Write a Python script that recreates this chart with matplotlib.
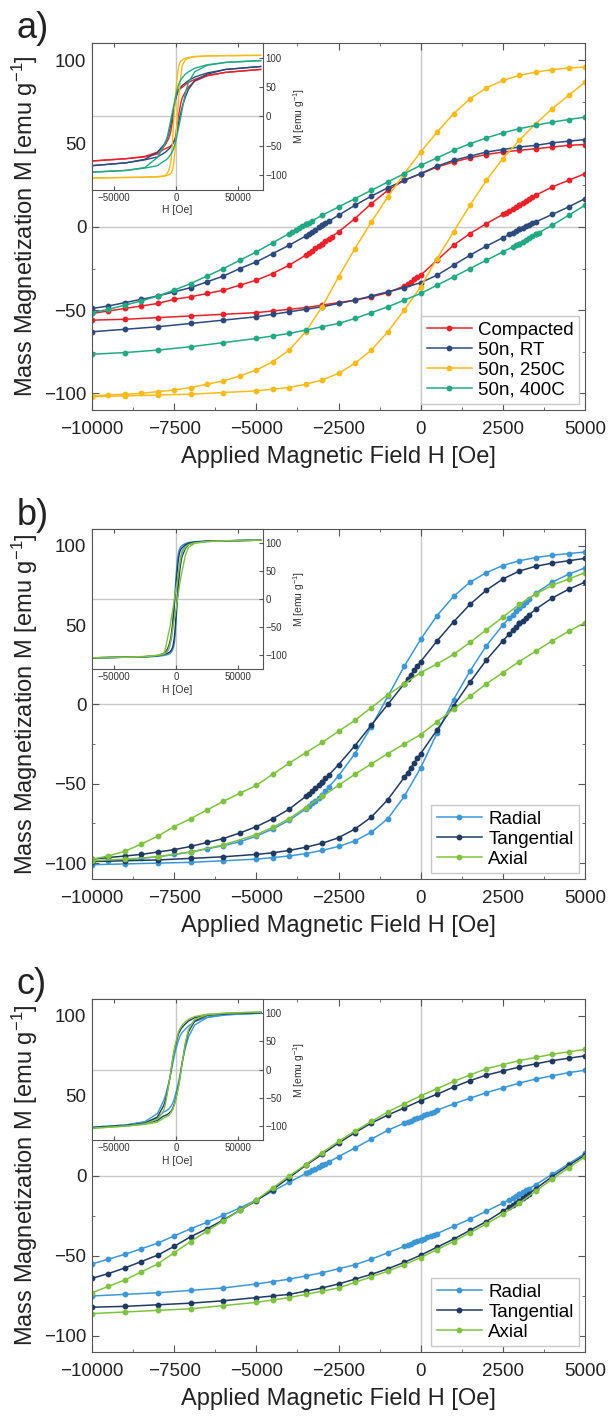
import numpy as np
import matplotlib.pyplot as plt
from matplotlib.ticker import MultipleLocator

plt.rcParams['font.family'] = ['Liberation Sans', 'DejaVu Sans']
plt.rcParams['mathtext.fontset'] = 'custom'
plt.rcParams['mathtext.rm'] = 'Liberation Sans'
plt.rcParams['mathtext.it'] = 'Liberation Sans:italic'

# field grid of the two branches [Oe]
H_DN = [5000, 4500, 4000, 3500, 3000, 2500, 2000, 1500, 1000, 500, 0, -500, -1000,
        -1500, -2000, -2500, -3000, -3500, -4000, -4500, -5000, -5500, -6000, -6500,
        -7000, -7500, -8000, -8500, -9000, -9500, -10000]
H_UP = [-10000, -9000, -8000, -7000, -6000, -5000, -4500, -4000, -3500, -3000, -2500,
        -2000, -1500, -1000, -500, 0, 500, 1000, 1500, 2000, 2500, 3000, 3500, 4000,
        4500, 5000]
# extra field points for the insets (high field)
INS_HI_H = [7500, 10000, 15000, 25000, 40000, 68000]
INS_LO_H = [-68000, -40000, -25000, -15000]

# ---------------- panel a ----------------
comp_dn = [49.5, 49, 48, 47, 46, 45, 43.5, 41.5, 39, 36, 32, 28, 22, 14, 5, -3, -10, -17,
           -23, -28, -32, -35, -38, -40, -42, -43.5, -46, -47.5, -49, -50.5, -52]
comp_up = [-56, -55.5, -54.5, -53.5, -52.5, -51.5, -50.5, -49.5, -48.5, -47, -45.5, -44,
           -42, -39.5, -35.5, -29, -20, -11, -4, 2, 7.5, 13, 19, 24, 28, 32]
comp_fine_h = [-3400, -3300, -3200, -3100, -3000, -2900, -2800, -2700,
               2600, 2700, 2800, 2900, 3000, 3100, 3200, 3300, 3400,
               -400, -300, -200, -100]
comp_fine_m = [-15.6, -14.2, -12.8, -11.4, -10, -8.6, -7.2, -5.8,
               8.6, 9.7, 10.8, 11.9, 13, 14.2, 15.4, 16.6, 17.8,
               -34.5, -33, -31.5, -30]
comp_hi_dn = [54, 58, 63, 70, 75, 80]
comp_hi_up = [42, 50, 60, 69, 75, 80]
comp_lo_dn = [-76, -72, -68, -61]
comp_lo_up = [-76, -72, -69, -64]

rt_dn = [52.5, 51.5, 50.5, 49, 48, 46.5, 45, 42.5, 40, 36.5, 32, 28, 23.5, 18.5, 13, 7, 1,
         -5.5, -11, -16, -21, -25, -29.5, -33, -36.5, -39, -41.5, -43.5, -45.5, -47.5, -49]
rt_up = [-63, -61.5, -60, -58, -56, -54, -52.5, -51, -49.5, -48, -46, -44, -41.5, -39,
         -36.5, -33.5, -29, -23, -17, -11.5, -6.5, -1.5, 3, 7.5, 12, 17]
rt_fine_h = [-3400, -3300, -3200, -3100, -3000, -2900, -2800,
             2700, 2800, 2900, 3000, 3100, 3200, 3300, 3400]
rt_fine_m = [-4.2, -2.9, -1.6, -0.3, 1, 2.2, 3.4,
             -4.5, -3.5, -2.5, -1.5, -0.6, 0.3, 1.2, 2.1]
rt_hi_dn = [57, 61, 67, 74, 80, 85]
rt_hi_up = [33, 46, 61, 72, 80, 85]
rt_lo_dn = [-84, -79, -73, -61]
rt_lo_up = [-84, -79, -74, -69]

c250_dn = [96, 95.5, 94.5, 93, 91, 88, 83.5, 77, 68, 57, 45, 32, 18, 3, -13, -30, -48,
           -63, -74, -81, -86, -89.5, -92.5, -94.5, -96.5, -98, -99, -100, -100.5, -101,
           -101.5]
c250_up = [-102, -101.5, -101, -100.5, -99.5, -98.5, -97.5, -96.5, -94.5, -92, -88, -82,
           -74, -63, -50, -36, -19, -3, 13, 28, 41, 52, 62, 71, 79, 87]
c250_fine_h = []
c250_fine_m = []
c250_hi_dn = [99, 100.5, 102, 103, 103.5, 104]
c250_hi_up = [96, 99.5, 101.5, 103, 103.5, 104]
c250_lo_dn = [-105, -104, -103.5, -102.5]
c250_lo_up = [-105, -104, -103.5, -103]

c400_dn = [66, 64.5, 63, 61, 59, 56.5, 53.5, 50, 46, 41.5, 37, 32, 27, 22, 17, 12, 7, 1.5,
           -4, -9.5, -15, -20, -25, -29.5, -34, -38, -41.5, -44.5, -47, -49.5, -51.5]
c400_up = [-76.5, -75.5, -74, -72, -69.5, -67, -65.5, -64, -62, -60, -58, -55, -51.5, -48,
           -44, -40, -35, -30, -25, -20, -15, -10, -4.5, 1, 7, 13]
c400_fine_h = [-3900, -3800, -3700, -3600, -3500, -3400, -3300,
               2800, 2900, 3000, 3100, 3200, 3300, 3400, 3500, 3600]
c400_fine_m = [-2.9, -1.8, -0.7, 0.4, 1.5, 2.6, 3.7,
               -12, -11, -10, -8.9, -7.8, -6.7, -5.6, -4.5, -3.4]
c400_hi_dn = [72, 76, 82, 88, 92, 95]
c400_hi_up = [40, 58, 76, 87, 92, 95]
c400_lo_dn = [-95, -92, -87, -70]
c400_lo_up = [-95, -92, -88, -84]

# ---------------- panel b ----------------
rad_b_dn = [96, 95, 94, 92.5, 90.5, 87.5, 83, 77, 68, 56, 41, 24, 5, -14, -31, -45, -57,
            -66, -73, -78.5, -83, -86.5, -89, -91, -93, -94.5, -96, -97, -98, -98.5, -99]
rad_b_up = [-101, -100.5, -100, -99.5, -98.5, -97.5, -96.5, -95.5, -94, -92, -89.5, -86,
            -80.5, -72, -58, -40, -18, 3, 21, 37, 50, 61, 70, 77, 82, 86]
rad_b_fine_h = [-3400, -3300, -3200, -3100, -3000, -2900, -2800,
                2700, 2800, 2900, 3000, 3100, 3200, 3300]
rad_b_fine_m = [-64.2, -62.4, -60.6, -58.8, -57, -54.6, -52.2,
                54.4, 56.6, 58.8, 61, 62.8, 64.6, 66.4]
rad_b_hi_dn = [99, 101, 102.5, 103.5, 104, 105]
rad_b_hi_up = [95, 99.5, 102, 103.5, 104, 105]
rad_b_lo_dn = [-105, -104, -103.5, -102]
rad_b_lo_up = [-105, -104, -103.5, -102.5]

tan_b_dn = [92, 90.5, 89, 87, 84, 79, 72, 63, 52, 40, 27, 13, 0, -13, -26, -38, -49, -58,
            -66, -72, -77, -81, -84.5, -87, -89.5, -91.5, -93, -94.5, -95.5, -96.5, -97.5]
tan_b_up = [-99, -98.5, -98, -97, -96, -94.5, -93.5, -92, -90, -87.5, -84, -78.5, -71, -60,
            -46, -31, -16, -1, 14, 28, 40, 51, 60, 67, 72.5, 77]
tan_b_fine_h = [-3400, -3300, -3200, -3100, -3000, -2900, -2800,
                2700, 2800, 2900, 3000, 3100, 3200, 3300,
                -400, -300, -200, -100, -400, -300, -200, -100]
tan_b_fine_m = [-56.2, -54.4, -52.6, -50.8, -49, -46.6, -44.2,
                44.4, 46.6, 48.8, 51, 52.8, 54.6, 56.4,
                15.8, 18.6, 21.4, 24.2, -43, -40, -37, -34]
tan_b_hi_dn = [97, 99.5, 101.5, 103, 104, 105]
tan_b_hi_up = [90, 97, 101, 103, 104, 105]
tan_b_lo_dn = [-105, -104, -103, -101]
tan_b_lo_up = [-105, -104, -103, -101.5]

ax_b_dn = [83, 79, 75, 69.5, 63, 55, 47, 39, 31.5, 25.5, 20, 13, 6, -2, -10, -17, -24,
           -30.5, -37, -44, -51, -56, -61, -66.5, -72, -77, -83, -88, -92.5, -95.5, -97.5]
ax_b_up = [-98.5, -97.5, -96, -93, -88.5, -82, -77.5, -72, -65, -58, -51, -44, -37.5, -31,
           -25, -19, -11, -3, 5, 13, 20, 27, 33.5, 40, 46, 51.5]
ax_b_fine_h = []
ax_b_fine_m = []
ax_b_hi_dn = [92, 97, 100.5, 102.5, 104, 105]
ax_b_hi_up = [78, 92, 99.5, 102.5, 104, 105]
ax_b_lo_dn = [-105, -104, -102.5, -100.5]
ax_b_lo_up = [-105, -104, -103, -101]

# ---------------- panel c ----------------
rad_c_dn = [66, 64.5, 62.5, 60.5, 58, 55, 52, 48.5, 45, 41, 37, 33, 28.5, 23, 17.5, 12,
            6.5, 1.5, -4, -9.5, -15, -20, -24.5, -29, -33, -37.5, -42, -45.5, -49, -52, -55]
rad_c_up = [-75, -74, -73, -71.5, -70, -67.5, -66, -64.5, -62.5, -60.5, -58, -55.5, -52,
            -48, -44, -40, -36, -31.5, -27, -22, -17, -11.5, -5.5, 1, 7.5, 14]
rad_c_fine_h = [-3400, -3300, -3200, -3100, -3000, -2900, -2800,
                -400, -300, -200, -100, 100, 200, 300, 400,
                -400, -300, -200, -100, 0, 100, 200, 300, 400,
                2700, 2800, 2900, 3000, 3100, 3200, 3300]
rad_c_fine_m = [2.5, 3.5, 4.5, 5.5, 6.5, 7.6, 8.7,
                33.8, 34.6, 35.4, 36.2, 37.8, 38.6, 39.4, 40.2,
                -43.2, -42.4, -41.6, -40.8, -40, -39.2, -38.4, -37.6, -36.8,
                -14.8, -13.7, -12.6, -11.5, -10.3, -9.1, -7.9]
rad_c_hi_dn = [72, 77, 85, 93, 97, 100]
rad_c_hi_up = [38, 58, 79, 92, 97, 100]
rad_c_lo_dn = [-102, -98, -92, -78]
rad_c_lo_up = [-102, -98, -93, -86]

tan_c_dn = [75, 73.5, 72, 70, 68, 65.5, 63, 59.5, 55.5, 51, 47, 42.5, 38, 33, 27, 20.5,
            13.5, 6.5, -1, -8.5, -15.5, -21.5, -27.5, -33, -38, -44, -49.5, -53.5, -57.5,
            -61, -64]
tan_c_up = [-82, -81.5, -80.5, -79.5, -78, -76, -75, -74, -72, -70, -67.5, -64.5, -61.5,
            -58, -54, -49.5, -44.5, -39.5, -34, -28.5, -22, -15.5, -8, -0.5, 6.5, 13]
tan_c_fine_h = [2700, 2800, 2900, 3000, 3100, 3200, 3300]
tan_c_fine_m = [-19.4, -18.1, -16.8, -15.5, -14, -12.5, -11]
tan_c_hi_dn = [81, 86, 92, 97, 99, 101]
tan_c_hi_up = [45, 67, 86, 96, 99, 101]
tan_c_lo_dn = [-103, -99, -95, -84]
tan_c_lo_up = [-103, -99, -96, -90]

ax_c_dn = [79, 77.5, 76, 74, 72, 69.5, 67, 63, 59, 54.5, 50, 45, 40, 34, 28, 21.5, 14.5,
           7, 0, -7.5, -15, -21.5, -28, -34.5, -41, -48, -55, -60, -65, -69, -73]
ax_c_up = [-86, -85, -84, -83, -81, -79, -77.5, -76, -74, -72, -70, -66.5, -63, -59.5,
           -55.5, -51, -46, -41, -35.5, -30, -24, -17, -9.5, -2, 5, 12]
ax_c_fine_h = []
ax_c_fine_m = []
ax_c_hi_dn = [85, 89, 94, 98, 100, 102]
ax_c_hi_up = [48, 71, 89, 97, 100, 102]
ax_c_lo_dn = [-104, -100, -96, -88]
ax_c_lo_up = [-104, -100, -97, -93]

names_a = ['Compacted', '50n, RT', '50n, 250C', '50n, 400C']
colors_a = ['#e8212b', '#2c4a7c', '#f5bb1c', '#22a983']
names_bc = ['Radial', 'Tangential', 'Axial']
colors_bc = ['#3d97d4', '#1f3a62', '#7fc241']

series_a = [
    (comp_dn, comp_up, comp_fine_h, comp_fine_m, comp_hi_dn, comp_hi_up, comp_lo_dn, comp_lo_up),
    (rt_dn, rt_up, rt_fine_h, rt_fine_m, rt_hi_dn, rt_hi_up, rt_lo_dn, rt_lo_up),
    (c250_dn, c250_up, c250_fine_h, c250_fine_m, c250_hi_dn, c250_hi_up, c250_lo_dn, c250_lo_up),
    (c400_dn, c400_up, c400_fine_h, c400_fine_m, c400_hi_dn, c400_hi_up, c400_lo_dn, c400_lo_up),
]
series_b = [
    (rad_b_dn, rad_b_up, rad_b_fine_h, rad_b_fine_m, rad_b_hi_dn, rad_b_hi_up, rad_b_lo_dn, rad_b_lo_up),
    (tan_b_dn, tan_b_up, tan_b_fine_h, tan_b_fine_m, tan_b_hi_dn, tan_b_hi_up, tan_b_lo_dn, tan_b_lo_up),
    (ax_b_dn, ax_b_up, ax_b_fine_h, ax_b_fine_m, ax_b_hi_dn, ax_b_hi_up, ax_b_lo_dn, ax_b_lo_up),
]
series_c = [
    (rad_c_dn, rad_c_up, rad_c_fine_h, rad_c_fine_m, rad_c_hi_dn, rad_c_hi_up, rad_c_lo_dn, rad_c_lo_up),
    (tan_c_dn, tan_c_up, tan_c_fine_h, tan_c_fine_m, tan_c_hi_dn, tan_c_hi_up, tan_c_lo_dn, tan_c_lo_up),
    (ax_c_dn, ax_c_up, ax_c_fine_h, ax_c_fine_m, ax_c_hi_dn, ax_c_hi_up, ax_c_lo_dn, ax_c_lo_up),
]

W, H = 610, 1420
spine_c = '#555555'
zero_c = '#c8c8c8'


def panel(fig, top_px, bot_px, tag, series, names, colors):
    ax = fig.add_axes([92 / W, 1 - bot_px / H, 493 / W, (bot_px - top_px) / H])
    ax.axhline(0, color=zero_c, lw=1, zorder=0)
    ax.axvline(0, color=zero_c, lw=1, zorder=0)
    for s, name, col in zip(series, names, colors):
        m_dn, m_up, fh, fm = s[:4]
        ax.plot(H_DN, m_dn, '-o', color=col, lw=1.1, ms=3.2, label=name)
        ax.plot(H_UP, m_up, '-o', color=col, lw=1.1, ms=3.2)
        if len(fh):
            ax.plot(fh, fm, 'o', color=col, ms=3.2, ls='none')
    ax.set_xlim(-10000, 5000)
    ax.set_ylim(-110, 110.5)
    ax.set_xticks([-10000, -7500, -5000, -2500, 0, 2500, 5000])
    ax.set_yticks([-100, -50, 0, 50, 100])
    ax.xaxis.set_minor_locator(MultipleLocator(1250))
    ax.yaxis.set_minor_locator(MultipleLocator(25))
    ax.tick_params(which='both', direction='in', top=True, right=True,
                   color=spine_c, labelsize=13.5, labelcolor='#222222')
    ax.tick_params(which='major', length=5)
    ax.tick_params(which='minor', length=2.5)
    ax.tick_params(axis='x', pad=8)
    ax.tick_params(axis='y', pad=4)
    for sp in ax.spines.values():
        sp.set_color(spine_c)
    ax.set_xlabel('Applied Magnetic Field H [Oe]', fontsize=17, labelpad=6, color='#222222')
    ax.set_ylabel('Mass Magnetization M [emu g$^{-1}$]', fontsize=17, labelpad=3,
                  color='#222222')
    ax.legend(loc='lower right', fontsize=13.5, frameon=True, fancybox=False,
              edgecolor='#c8c8c8', framealpha=1, handlelength=2.4, handletextpad=0.35,
              labelspacing=0.15, borderpad=0.3, borderaxespad=0.3)
    fig.text(17 / W, 1 - (top_px - 14) / H, tag, fontsize=26, ha='left', va='center',
             color='#222222')

    # inset: full loop
    ins = ax.inset_axes([0, 0.6, 0.346, 0.4])
    ins.set_facecolor('white')
    ins.axhline(0, color=zero_c, lw=1, zorder=0)
    ins.axvline(0, color=zero_c, lw=1, zorder=0)
    for s, col in zip(series, colors):
        m_dn, m_up, fh, fm, hi_dn, hi_up, lo_dn, lo_up = s
        h1 = INS_HI_H[::-1] + H_DN + INS_LO_H[::-1]
        m1 = hi_dn[::-1] + m_dn + lo_dn[::-1]
        h2 = INS_LO_H + H_UP + INS_HI_H
        m2 = lo_up + m_up + hi_up
        ins.plot(h1, m1, '-', color=col, lw=1.0)
        ins.plot(h2, m2, '-', color=col, lw=1.0)
    ins.set_xlim(-67500, 69500)
    ins.set_ylim(-125, 125)
    ins.set_xticks([-50000, 0, 50000])
    ins.set_yticks([-100, -50, 0, 50, 100])
    ins.yaxis.tick_right()
    ins.yaxis.set_label_position('right')
    ins.tick_params(direction='in', top=True, right=True, left=False, labelsize=7,
                    length=3, pad=2, color=spine_c, labelcolor='#333333')
    for sp in ins.spines.values():
        sp.set_color(spine_c)
    ins.set_xlabel('H [Oe]', fontsize=7.5, labelpad=2, color='#333333')
    ins.set_ylabel('M [emu g$^{-1}$]', fontsize=7.5, labelpad=3, color='#333333')
    return ax


fig = plt.figure(figsize=(W / 100, H / 100), dpi=100)
panel(fig, 43, 410, 'a)', series_a, names_a, colors_a)
panel(fig, 529, 879, 'b)', series_b, names_bc, colors_bc)
panel(fig, 999, 1352, 'c)', series_c, names_bc, colors_bc)
fig.savefig('out.png', dpi=100)
